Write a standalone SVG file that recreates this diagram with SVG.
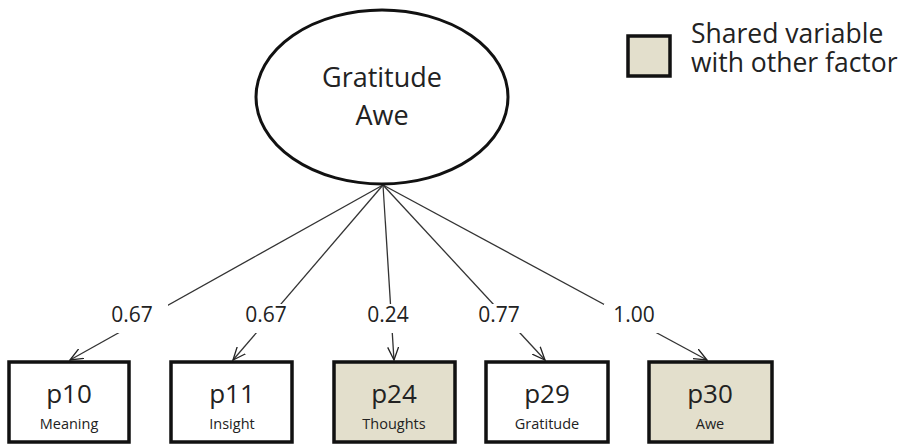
<svg xmlns="http://www.w3.org/2000/svg" width="921" height="444" viewBox="0 0 921 444">
<defs>
<marker id="arr" viewBox="0 0 14 12" refX="13" refY="6" markerWidth="14" markerHeight="12" markerUnits="userSpaceOnUse" orient="auto">
<polyline points="0,0.5 13,6 0,11.5" fill="none" stroke="#222" stroke-width="1.3"/>
</marker>
</defs>
<style>
text{font-family:"Open Sans","Noto Sans","DejaVu Sans",sans-serif;fill:#222;text-anchor:middle}
.box{stroke:#111;stroke-width:3.5}
.plain{fill:#fff}
.shared{fill:#e3dfcc}
.big{font-size:27px}
.pid{font-size:26px}
.small{font-size:14.5px}
.lbl{font-size:21px}
.leg{font-size:26.5px;text-anchor:start}
.edge{stroke:#333;stroke-width:1.3;fill:none;marker-end:url(#arr)}
.bg{fill:#fff}
</style>
<rect width="921" height="444" fill="#fff"/>
<g id="connectors">
<line class="edge" x1="383" y1="185" x2="70" y2="360"/>
<line class="edge" x1="383" y1="185" x2="233" y2="360"/>
<line class="edge" x1="383" y1="185" x2="394" y2="360"/>
<line class="edge" x1="383" y1="185" x2="545" y2="360"/>
<line class="edge" x1="383" y1="185" x2="707" y2="360"/>
<rect class="bg" x="100" y="304" width="68" height="29"/>
<rect class="bg" x="235" y="304" width="64" height="29"/>
<rect class="bg" x="355" y="304" width="66" height="29"/>
<rect class="bg" x="468" y="304" width="62" height="29"/>
<rect class="bg" x="604" y="304" width="62" height="29"/>
<text class="lbl" x="132" y="322">0.67</text>
<text class="lbl" x="266" y="322">0.67</text>
<text class="lbl" x="388" y="322">0.24</text>
<text class="lbl" x="499" y="322">0.77</text>
<text class="lbl" x="634" y="322">1.00</text>
</g>
<g id="factor">
<ellipse cx="382" cy="97" rx="126" ry="87" fill="#fff" stroke="#111" stroke-width="3"/>
<text class="big" x="382" y="87">Gratitude</text>
<text class="big" x="382" y="125">Awe</text>
</g>
<g id="legend">
<rect class="box shared" x="628" y="36" width="42" height="40"/>
<text class="leg" x="691" y="43">Shared variable</text>
<text class="leg" x="691" y="72">with other factor</text>
</g>
<g id="p10">
<rect class="box plain" x="9" y="362" width="120" height="80"/>
<text class="pid" x="69" y="403">p10</text>
<text class="small" x="69" y="429">Meaning</text>
</g>
<g id="p11">
<rect class="box plain" x="171" y="362" width="121" height="80"/>
<text class="pid" x="232" y="403">p11</text>
<text class="small" x="232" y="429">Insight</text>
</g>
<g id="p24">
<rect class="box shared" x="334" y="362" width="121" height="80"/>
<text class="pid" x="394" y="403">p24</text>
<text class="small" x="394" y="429">Thoughts</text>
</g>
<g id="p29">
<rect class="box plain" x="486" y="362" width="122" height="80"/>
<text class="pid" x="547" y="403">p29</text>
<text class="small" x="547" y="429">Gratitude</text>
</g>
<g id="p30">
<rect class="box shared" x="649" y="362" width="123" height="80"/>
<text class="pid" x="710" y="403">p30</text>
<text class="small" x="710" y="429">Awe</text>
</g>
</svg>
